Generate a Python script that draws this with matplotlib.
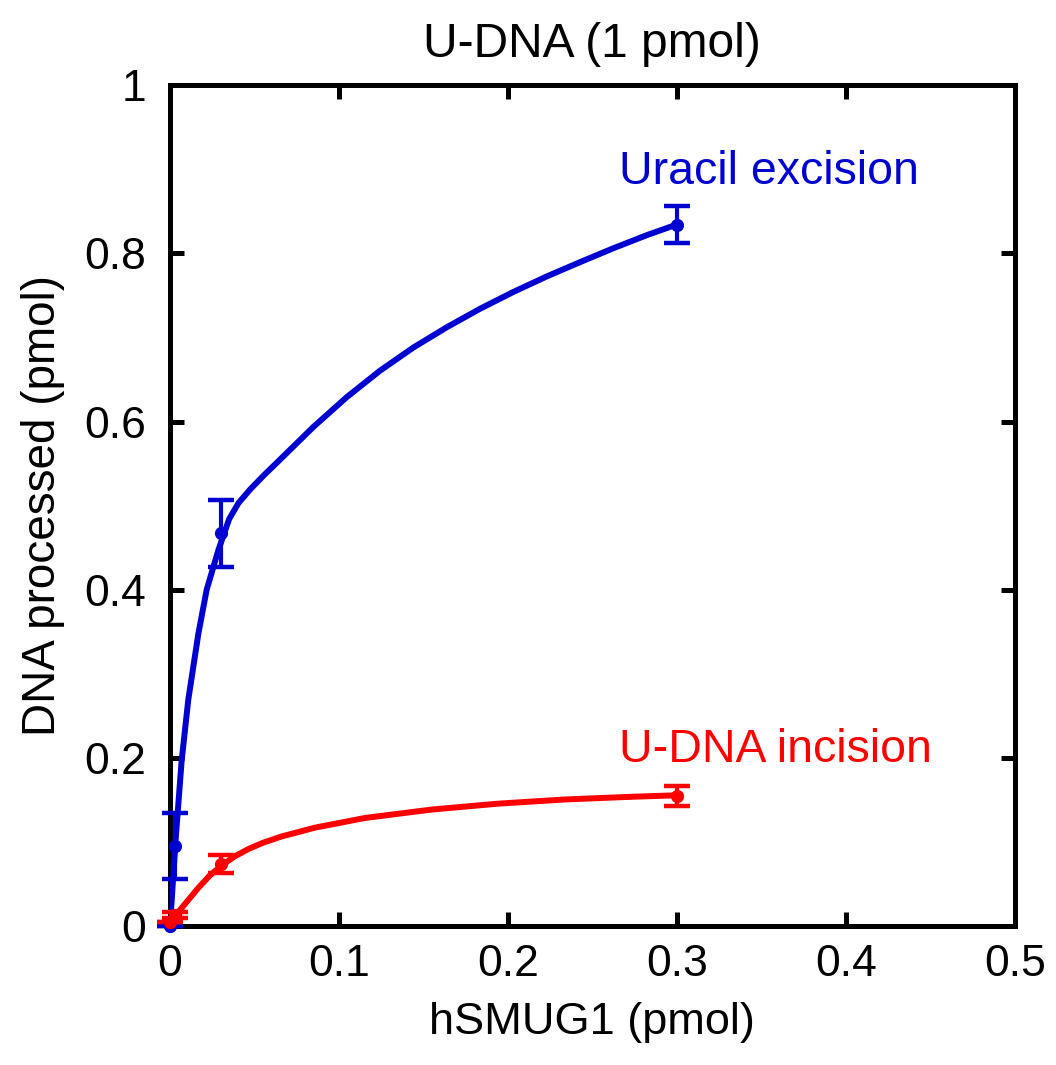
import matplotlib
matplotlib.use("Agg")
import matplotlib.pyplot as plt
from matplotlib.ticker import FuncFormatter

plt.rcParams['font.family'] = ['Liberation Sans', 'DejaVu Sans']

BLUE = "#0000D0"
RED = "#FF0000"

# measured points (hSMUG1 pmol vs DNA processed pmol)
exc_x = [0.0, 0.003, 0.03, 0.3]
exc_y = [0.0, 0.095, 0.467, 0.834]
exc_err = [0.0, 0.039, 0.040, 0.022]

inc_x = [0.0, 0.003, 0.03, 0.3]
inc_y = [0.005, 0.013, 0.074, 0.155]
inc_err = [0.0, 0.004, 0.011, 0.012]

# fitted curves
exc_fit_x = [0.0, 0.0034, 0.0069, 0.0108, 0.0168, 0.0217, 0.0286, 0.035, 0.0405,
             0.0473, 0.0555, 0.065, 0.0848, 0.1046, 0.1243, 0.144, 0.1637,
             0.1834, 0.2031, 0.2229, 0.2426, 0.2623, 0.282, 0.2988]
exc_fit_y = [0.0, 0.105, 0.197, 0.269, 0.348, 0.400, 0.447, 0.484, 0.503,
             0.519, 0.536, 0.5545, 0.5935, 0.629, 0.6605, 0.688, 0.712,
             0.734, 0.754, 0.7725, 0.7895, 0.806, 0.8215, 0.8335]

inc_fit_x = [0.0, 0.003, 0.01, 0.0168, 0.0235, 0.0306, 0.038, 0.0463, 0.055,
             0.066, 0.0858, 0.1154, 0.1548, 0.194, 0.2337, 0.273, 0.2988]
inc_fit_y = [0.006, 0.012, 0.029, 0.0455, 0.060, 0.072, 0.0825, 0.0915, 0.099,
             0.1065, 0.117, 0.1285, 0.1385, 0.1455, 0.1505, 0.1537, 0.1554]

fig = plt.figure(figsize=(10.56, 10.65), dpi=100)
ax = fig.add_axes([0.161, 0.1305, 0.8, 0.7895])

ax.plot(exc_fit_x, exc_fit_y, color=BLUE, lw=4.3, solid_capstyle="round",
        solid_joinstyle="round", zorder=3)
ax.plot(inc_fit_x, inc_fit_y, color=RED, lw=4.3, solid_capstyle="round",
        solid_joinstyle="round", zorder=3)
ax.errorbar(exc_x, exc_y, yerr=exc_err, fmt="o", color=BLUE, ms=8.5, elinewidth=3,
            capsize=9.5, capthick=3.2, zorder=4, clip_on=False)
ax.errorbar(inc_x, inc_y, yerr=inc_err, fmt="o", color=RED, ms=8.5, elinewidth=3,
            capsize=9.5, capthick=3.2, zorder=4, clip_on=False)

ax.text(0.266, 0.897, "Uracil excision", color=BLUE, fontsize=33.5, va="center", ha="left")
ax.text(0.266, 0.209, "U-DNA incision", color=RED, fontsize=33.5, va="center", ha="left")

ax.set_xlim(0, 0.5)
ax.set_ylim(0, 1)
ax.set_xticks([0, 0.1, 0.2, 0.3, 0.4, 0.5])
ax.set_yticks([0, 0.2, 0.4, 0.6, 0.8, 1.0])
fmt = FuncFormatter(lambda v, p: f"{v:g}")
ax.xaxis.set_major_formatter(fmt)
ax.yaxis.set_major_formatter(fmt)

for s in ax.spines.values():
    s.set_linewidth(3.6)
ax.tick_params(direction="in", length=10, width=3.6, top=True, right=True,
               labelsize=32)
ax.tick_params(axis="x", pad=13)
ax.tick_params(axis="y", pad=17)

ax.set_xlabel("hSMUG1 (pmol)", fontsize=32.5, labelpad=12)
ax.set_ylabel("DNA processed (pmol)", fontsize=33, labelpad=14)
ax.set_title("U-DNA (1 pmol)", fontsize=34.5, pad=20)

fig.savefig("out.png", dpi=100)
